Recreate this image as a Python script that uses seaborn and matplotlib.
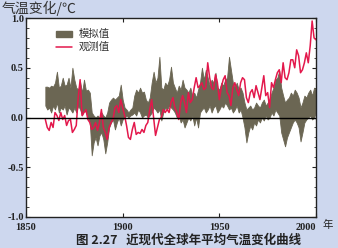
import numpy as np
import pandas as pd
import matplotlib
matplotlib.use("Agg")
import matplotlib.pyplot as plt
from matplotlib.patches import Patch
from matplotlib.lines import Line2D
from matplotlib.ticker import MultipleLocator
import seaborn as sns

years = list(range(1860, 2001))

observed = [
    -0.02, -0.10, -0.13, -0.05, -0.10, 0.05, 0.02, -0.03, 0.05, -0.02,
    0.02, -0.08, -0.03, -0.02, -0.15, -0.12, -0.08, 0.20, 0.38, 0.02,
    0.05, 0.08, -0.02, -0.05, -0.12, -0.10, -0.05, -0.13, -0.05, 0.08,
    -0.10, -0.15, -0.22, -0.10, -0.05, -0.02, 0.10, 0.12, 0.05, 0.18,
    0.10, 0.02, -0.08, -0.20, -0.22, -0.12, -0.05, -0.17, -0.15, -0.16,
    -0.12, -0.15, -0.08, -0.05, 0.08, 0.18, 0.00, -0.18, -0.10, -0.02,
    0.00, 0.08, 0.05, 0.08, 0.05, 0.15, 0.20, 0.10, 0.05, -0.02,
    0.15, 0.22, 0.15, 0.05, 0.25, 0.15, 0.18, 0.30, 0.40, 0.30,
    0.32, 0.35, 0.28, 0.30, 0.55, 0.40, 0.30, 0.28, 0.43, 0.35,
    0.18, 0.30, 0.38, 0.42, 0.25, 0.22, 0.12, 0.30, 0.35, 0.28,
    0.22, 0.35, 0.40, 0.38, 0.20, 0.15, 0.25, 0.28, 0.20, 0.32,
    0.25, 0.18, 0.30, 0.42, 0.22, 0.25, 0.10, 0.35, 0.30, 0.38,
    0.45, 0.48, 0.35, 0.55, 0.40, 0.38, 0.45, 0.58, 0.58, 0.50,
    0.68, 0.62, 0.45, 0.48, 0.55, 0.65, 0.55, 0.72, 0.97, 0.80,
    0.78,
]

sim_upper = [
    0.31, 0.31, 0.30, 0.32, 0.31, 0.35, 0.46, 0.30, 0.32, 0.40,
    0.32, 0.33, 0.40, 0.30, 0.50, 0.38, 0.30, 0.28, 0.36, 0.25,
    0.38, 0.27, 0.28, 0.25, 0.05, 0.02, 0.00, 0.02, 0.00, 0.05,
    0.02, 0.00, 0.05, 0.15, 0.18, 0.20, 0.18, 0.20, 0.22, 0.33,
    0.18, 0.10, 0.08, 0.05, 0.08, 0.10, 0.22, 0.28, 0.25, 0.30,
    0.25, 0.26, 0.18, 0.15, 0.20, 0.35, 0.46, 0.35, 0.40, 0.61,
    0.30, 0.28, 0.35, 0.32, 0.38, 0.51, 0.35, 0.30, 0.25, 0.32,
    0.28, 0.38, 0.30, 0.28, 0.25, 0.30, 0.22, 0.25, 0.20, 0.28,
    0.35, 0.50, 0.38, 0.48, 0.40, 0.32, 0.38, 0.35, 0.45, 0.30,
    0.28, 0.35, 0.32, 0.38, 0.40, 0.61, 0.48, 0.35, 0.30, 0.35,
    0.28, 0.30, 0.25, 0.15, 0.08, 0.10, 0.12, 0.08, 0.10, 0.15,
    0.12, 0.10, 0.15, 0.18, 0.12, 0.15, 0.18, 0.25, 0.30, 0.38,
    0.40, 0.47, 0.30, 0.22, 0.15, 0.18, 0.20, 0.25, 0.22, 0.28,
    0.25, 0.20, 0.10, 0.15, 0.22, 0.20, 0.25, 0.28, 0.22, 0.30,
    0.28,
]

sim_lower = [
    0.12, 0.08, 0.10, 0.05, 0.12, 0.08, 0.15, 0.05, 0.10, 0.08,
    0.12, 0.03, 0.10, 0.08, 0.05, 0.10, 0.05, 0.12, 0.08, 0.02,
    0.08, 0.05, 0.00, -0.05, -0.38, -0.25, -0.20, -0.28, -0.18, -0.15,
    -0.22, -0.36, -0.25, -0.10, -0.05, -0.02, -0.12, -0.05, 0.00, -0.08,
    -0.02, 0.00, 0.02, 0.00, 0.02, 0.03, 0.05, 0.02, 0.08, 0.05,
    0.00, 0.02, 0.03, 0.00, 0.02, 0.05, 0.10, 0.08, 0.05, 0.08,
    -0.03, 0.05, 0.10, 0.08, 0.12, 0.10, 0.08, 0.05, 0.00, 0.02,
    -0.05, -0.02, -0.10, -0.05, 0.00, -0.03, 0.02, -0.08, 0.00, -0.10,
    0.05, 0.08, 0.10, 0.05, 0.08, 0.12, 0.05, 0.10, 0.12, 0.05,
    0.08, 0.12, 0.10, 0.15, 0.12, 0.08, 0.10, 0.05, 0.08, 0.12,
    0.05, 0.08, 0.00, -0.10, -0.25, -0.15, -0.08, -0.12, -0.05, -0.08,
    -0.02, -0.05, 0.00, -0.03, 0.02, -0.02, 0.00, 0.05, 0.02, 0.08,
    0.05, 0.02, -0.15, -0.22, -0.29, -0.20, -0.15, -0.10, -0.05, -0.02,
    -0.05, -0.10, -0.24, -0.15, -0.05, -0.02, 0.00, 0.02, -0.02, 0.00,
    0.05,
]

x_ticks = [1850, 1900, 1950, 2000]
y_ticks = [-1.0, -0.5, 0.0, 0.5, 1.0]
y_tick_labels = ["-1.0", "-0.5", "0.0", "0.5", "1.0"]
series_labels = ["模拟值", "观测值"]

df = pd.DataFrame({"year": years, "obs": observed,
                   "lo": sim_lower, "hi": sim_upper})

sns.set_style("ticks")
plt.rcParams["font.family"] = ["Noto Sans CJK SC", "DejaVu Sans"]

BAND = "#6b6653"
RED = "#e3184c"

fig = plt.figure(figsize=(3.38, 2.48), dpi=100)
fig.patch.set_facecolor("#cdd7ee")
ax = fig.add_axes([26 / 338, 1 - 217 / 248, 290 / 338, 199 / 248])
ax.set_facecolor("white")

ax.fill_between(df["year"], df["lo"], df["hi"], color=BAND, linewidth=0.6,
                edgecolor=BAND, zorder=2)
sns.lineplot(data=df, x="year", y="obs", ax=ax, color=RED, linewidth=1.1,
             zorder=3)
ax.axhline(0, color="black", linewidth=1.0, zorder=4)

ax.set_xlim(1850, 2000)
ax.set_ylim(-1.0, 1.0)
ax.set_xticks(x_ticks)
ax.set_yticks(y_ticks)
ax.set_yticklabels(y_tick_labels)
ax.yaxis.set_minor_locator(MultipleLocator(0.1))
ax.set_xlabel("")
ax.set_ylabel("")
for s in ax.spines.values():
    s.set_linewidth(1.0)
    s.set_color("#222222")
ax.tick_params(axis="both", which="major", direction="in", length=3,
               width=0.8, top=True, right=True, labelsize=7.5,
               colors="#222222")
ax.tick_params(axis="x", which="major", pad=4.5)
ax.tick_params(axis="y", which="major", pad=1.5)
ax.tick_params(axis="y", which="minor", direction="in", length=1.8,
               width=0.6, right=True, left=True)
for lab in ax.get_xticklabels() + ax.get_yticklabels():
    lab.set_family(["Liberation Serif"])
    lab.set_fontweight("bold")
xl = ax.get_xticklabels()
xl[-1].set_horizontalalignment("right")
xl[0].set_horizontalalignment("center")

handles = [Patch(facecolor=BAND, edgecolor=BAND),
           Line2D([0], [0], color=RED, linewidth=1.1)]
leg = ax.legend(handles, series_labels, loc="upper left",
                bbox_to_anchor=(0.07, 0.99), frameon=False, fontsize=7.5,
                handlelength=1.6, handleheight=0.5, handletextpad=0.6,
                labelspacing=0.25)
for t in leg.get_texts():
    t.set_color("#333333")

fig.text(2 / 338, 1 - 8 / 248, "气温变化/℃", fontsize=10, va="center",
         ha="left", color="#333333")
fig.text(328 / 338, 1 - 225 / 248, "年", fontsize=7.5, va="center",
         ha="center", color="#222222")
fig.text(189 / 338, 1 - 240 / 248, "图 2.27   近现代全球年平均气温变化曲线",
         fontsize=9, fontweight="bold", va="center", ha="center",
         color="#222222")

fig.savefig("out.png", dpi=100, facecolor=fig.get_facecolor())
